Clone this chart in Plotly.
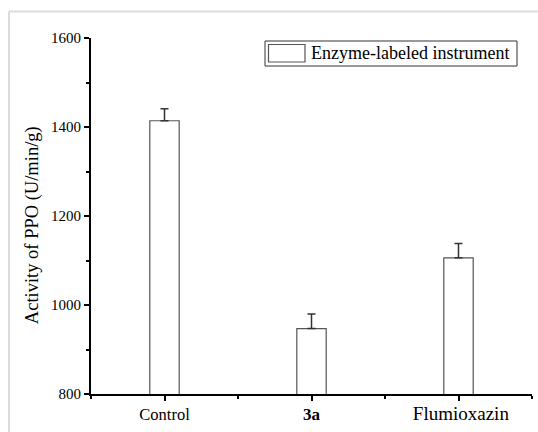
import plotly.graph_objects as go

categories = ["Control", "3a", "Flumioxazin"]
tick_labels = [
    '<span style="font-size:16.5px">Control</span>',
    '<b style="font-size:17px">3a</b>',
    '<span style="font-size:19px">&nbsp;Flumioxazin</span>',
]
values = [1414, 947, 1106]
errors = [27, 33, 32]
x_pos = [0, 1, 2]
legend_name = "Enzyme-labeled instrument"
y_title = "Activity of PPO (U/min/g)"

FONT = "Liberation Serif"

fig = go.Figure()
fig.add_trace(go.Bar(
    x=x_pos, y=values, width=0.2,
    marker=dict(color="white", line=dict(color="#555555", width=1.2)),
    error_y=dict(type="data", symmetric=False, array=errors, arrayminus=[0, 0, 0],
                 color="#333333", thickness=1.5, width=4),
    name=legend_name, showlegend=False,
))

fig.update_layout(
    width=538, height=432,
    margin=dict(l=91, r=6, t=38, b=38),
    paper_bgcolor="white", plot_bgcolor="white",
    font=dict(family=FONT, color="black"),
    xaxis=dict(
        range=[-0.5, 2.5], tickvals=x_pos, ticktext=tick_labels,
        showline=True, linecolor="black", linewidth=2, mirror=False,
        ticks="outside", ticklen=5, tickwidth=2, tickcolor="black",
        minor=dict(tick0=0.5, dtick=1, ticks="outside", ticklen=3, tickwidth=2, tickcolor="black"),
        showgrid=False, zeroline=False,
        tickfont=dict(size=16, family=FONT, color="black"),
    ),
    yaxis=dict(
        range=[800, 1600], dtick=200, tick0=800,
        showline=True, linecolor="black", linewidth=2,
        ticks="outside", ticklen=5, tickwidth=2, tickcolor="black",
        minor=dict(dtick=100, ticks="outside", ticklen=3, tickwidth=1.5, tickcolor="black"),
        showgrid=False, zeroline=False,
        tickfont=dict(size=15, family=FONT, color="black"),
        title=dict(text=y_title + "&nbsp;" * 4, font=dict(size=18.5, family=FONT, color="black"), standoff=8),
    ),
)

# light grey outer frame (top and left edges visible in the crop)
fig.add_shape(type="line", xref="paper", yref="paper",
              x0=(9 - 91) / 441, x1=(545 - 91) / 441,
              y0=(394 - 11.5) / 356, y1=(394 - 11.5) / 356,
              line=dict(color="#dcdcdc", width=2), layer="below")
fig.add_shape(type="line", xref="paper", yref="paper",
              x0=(9 - 91) / 441, x1=(9 - 91) / 441,
              y0=(394 - 440) / 356, y1=(394 - 11.5) / 356,
              line=dict(color="#dcdcdc", width=2), layer="below")

# legend box
fig.add_shape(type="rect", xref="paper", yref="paper",
              x0=(265 - 91) / 441, x1=(517 - 91) / 441,
              y0=(394 - 66) / 356, y1=(394 - 41) / 356,
              line=dict(color="#333333", width=1), fillcolor="white")
fig.add_shape(type="rect", xref="paper", yref="paper",
              x0=(268.5 - 91) / 441, x1=(305 - 91) / 441,
              y0=(394 - 62) / 356, y1=(394 - 44.5) / 356,
              line=dict(color="#555555", width=1.2), fillcolor="white")
fig.add_annotation(text=legend_name, xref="paper", yref="paper",
                   x=(309 - 91) / 441, y=(394 - 53.5) / 356,
                   xanchor="left", yanchor="middle", showarrow=False,
                   font=dict(size=18, family=FONT, color="black"))

fig.write_html("out.html",
               config={"displayModeBar": False},
               post_script="document.body.style.margin='0';document.body.style.overflow='hidden';")
